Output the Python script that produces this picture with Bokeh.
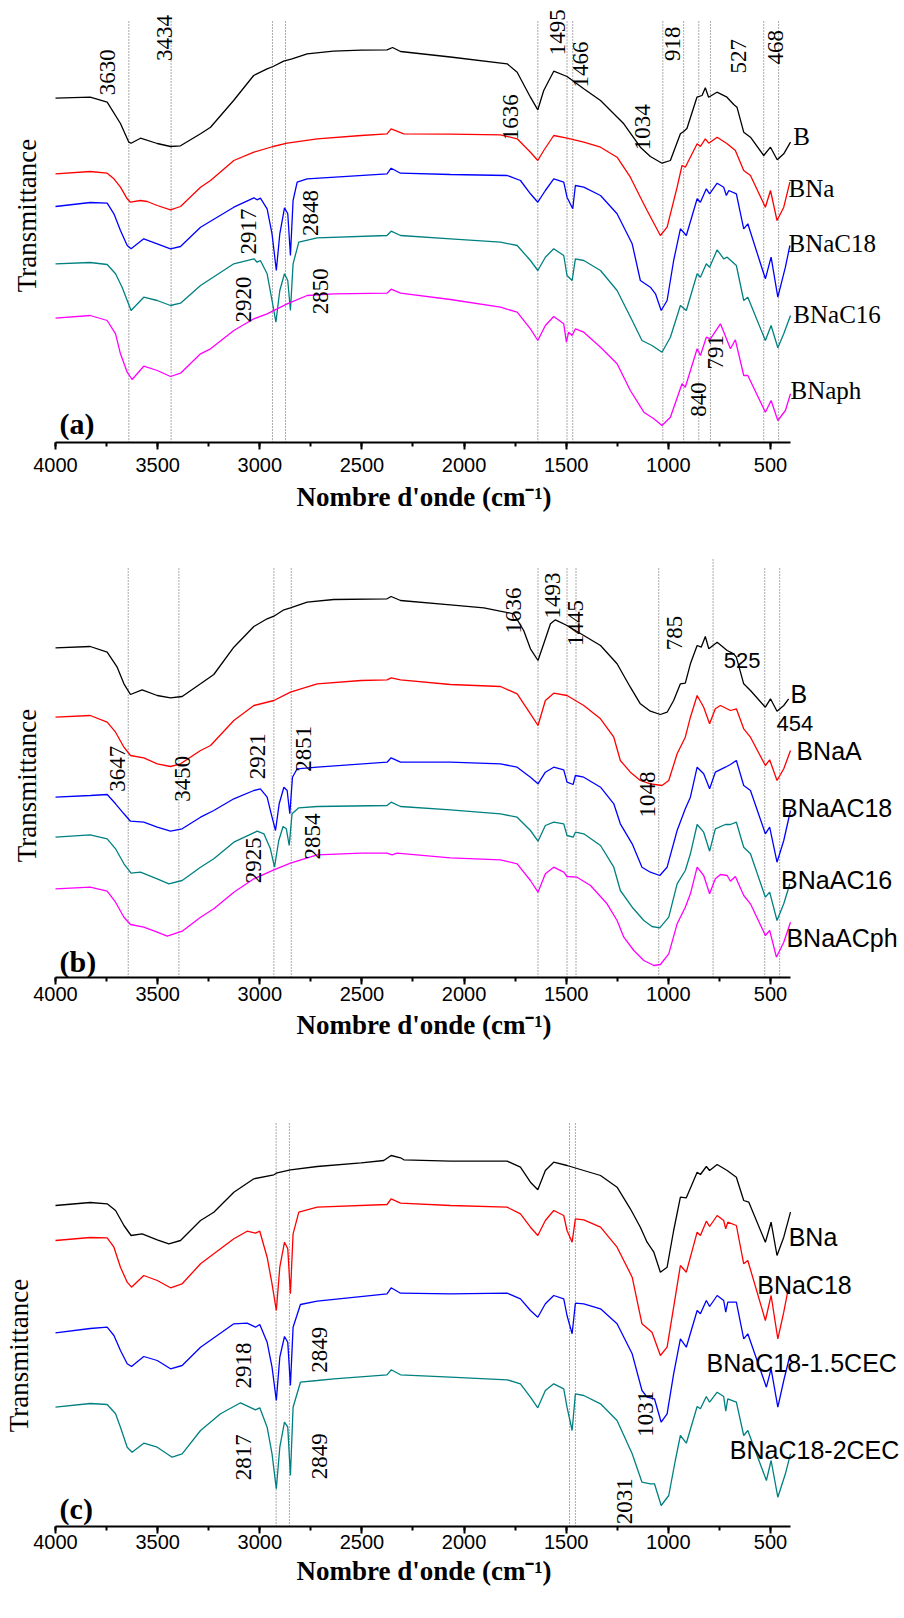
from math import pi
from bokeh.plotting import figure
from bokeh.layouts import column
from bokeh.models import Range1d, Label, SingleIntervalTicker, Title
from bokeh.embed import file_html
from bokeh.resources import INLINE

BLACK, RED, BLUE, TEAL, MAG = "#000000", "#ff0000", "#0000ff", "#008080", "#ff00ff"

# ---------------- Panel (a) data: (wavenumber cm-1, transmittance a.u.) ----------------
a_B = [(4000,344.3),(3830,345.3),(3747,340.3),(3682,319),(3641,300.3),(3630,299.3),(3584,304.3),(3502,299),(3437,296),(3388,296.7),(3290,308.7),(3241,315.3),(3128,342),(3030,367),(2964,373.7),(2935,376),(2883,381.3),(2842,383.7),(2768,388.7),(2640,391.3),(2504,392.3),(2377,392.7),(2350,395),(2311,391),(2067,385.5),(1789,378.7),(1740,370.3),(1675,345.3),(1639,332.7),(1610,352),(1561,371.3),(1496,366),(1414,353.7),(1332,342),(1218,318.7),(1137,295.3),(1088,286),(1031,279.3),(990,282),(941,308.7),(925,311),(909,314),(860,345.3),(835,347),(819,354.7),(803,345.3),(762,350.3),(713,345.3),(680,338),(664,335.3),(631,310.3),(598,305.3),(533,287),(500,295.3),(467,282.7),(435,288.7),(402,300.3)]
a_BNa = [(4000,268.7),(3830,271),(3747,269.3),(3714,263.7),(3682,255.3),(3649,243.7),(3633,240.3),(3584,242),(3551,241),(3502,237),(3437,232.7),(3388,236),(3290,255.3),(3241,262),(3127,282),(3029,290.3),(2935,296),(2866,299.3),(2719,303.7),(2504,307),(2377,308.7),(2357,313.7),(2295,308.7),(2067,308.3),(1822,307.7),(1740,303.7),(1675,290.3),(1639,282),(1610,292),(1561,307),(1496,304.3),(1414,300.3),(1332,295.3),(1251,285.3),(1186,265.3),(1137,245.3),(1104,232),(1039,207),(1006,215.3),(957,255.3),(933,277),(917,275.3),(859,298.7),(843,296),(819,303.7),(802,299.3),(761,305.3),(712,298.7),(672,292),(631,272),(598,267),(525,235.3),(500,252),(468,222),(435,235.3),(405,260.3)]
a_BNaC18 = [(4000,236),(3830,240),(3747,239.3),(3714,228.7),(3682,212),(3649,197),(3630,193.7),(3568,203.7),(3502,198.7),(3437,193.7),(3388,196),(3290,215.3),(3127,235.3),(3029,244.7),(3013,242.7),(2997,244.3),(2964,233.7),(2940,208.7),(2919,172),(2902,208.7),(2879,234.7),(2863,228.7),(2850,187),(2837,242),(2817,260.3),(2768,263.7),(2377,268.7),(2357,274.3),(2311,269.3),(2067,268),(1789,267),(1724,262),(1675,248.7),(1639,240.3),(1602,252),(1561,263.7),(1512,260.3),(1496,245.3),(1468,233.7),(1455,257),(1414,255.3),(1332,247),(1251,228.7),(1177,198.7),(1137,162),(1088,155.3),(1063,148.7),(1035,132),(1006,142),(974,182),(941,213.7),(912,207),(859,243.7),(843,240.3),(814,253.7),(798,248.7),(761,259.3),(729,255.3),(716,247),(704,252),(667,248.7),(631,213.7),(611,218.7),(525,163.7),(497,185.3),(464,145.3),(427,175.3),(405,197)]
a_BNaC16 = [(4000,178.7),(3830,180),(3747,178),(3706,168.7),(3674,155.3),(3630,132),(3568,145.3),(3502,142),(3437,137),(3388,139.3),(3290,157),(3127,178.7),(3029,183.7),(3013,180.3),(2997,182),(2964,168.7),(2940,142),(2921,120.3),(2902,152),(2879,168.7),(2863,162),(2850,132),(2837,178.7),(2809,200.3),(2719,204.7),(2377,207),(2357,211.3),(2311,207),(2067,203.7),(1822,200.3),(1740,197),(1675,182),(1639,172),(1602,185.3),(1561,193.7),(1512,187),(1496,167),(1471,162),(1455,183.7),(1414,182),(1332,172),(1251,152),(1177,122),(1129,102),(1080,97),(1031,90.3),(990,105.3),(941,137),(912,132),(859,168.7),(843,165.3),(814,178.7),(798,175.3),(761,192.7),(729,183.7),(712,185.3),(667,177),(631,142),(611,145.3),(525,102),(497,117),(464,94.7),(435,108.7),(402,127)]
a_BNaph = [(4000,124.3),(3830,127),(3747,122),(3706,108.7),(3682,88.7),(3649,70.3),(3625,63),(3568,76.3),(3502,72),(3437,66),(3388,69.3),(3290,88.7),(3241,93.7),(3127,112),(3029,123.7),(2964,128.7),(2866,138.7),(2768,147),(2638,148.7),(2377,149.3),(2357,153.3),(2311,149.3),(2067,143),(1822,135.3),(1740,130.3),(1675,113.7),(1639,102),(1602,117),(1561,126),(1512,118.7),(1499,100.3),(1488,110.3),(1471,107),(1455,113.7),(1414,110.3),(1332,95.3),(1251,78.7),(1186,52),(1120,30.3),(1071,23.7),(1031,17),(990,25.3),(933,58.7),(917,55.3),(859,93.7),(843,87),(814,105.3),(794,103.7),(745,118.7),(696,93.7),(672,102.7),(631,67),(611,67),(525,30.3),(497,42),(464,22),(427,32),(402,48.7)]
a_lines = [3641, 3434, 2938, 2874, 1639, 1496, 1468, 1027, 925, 851, 794, 533, 460]
a_peaks = [("3630",3747,370.3),("3434",3468,404.5),("2917",3054,211),("2920",3078,143),("2848",2752,229.5),("2850",2703,151.2),
           ("1636",1773,325.3),("1495",1544,410.3),("1466",1430,378),("1034",1128,315.3),("918",981,398.7),("527",655,386.2),
           ("468",476,395.3),("840",851,43),("791",770,90.3)]
a_names = [("B",388,306),("BNa",412,254.5),("BNaC18",412,199.5),("BNaC16",388,128),("BNaph",402,52)]

# ---------------- Panel (b) data ----------------
b_B = [(4000,329.7),(3830,331),(3747,325.3),(3698,310.3),(3665,293.7),(3633,283),(3576,287.7),(3502,282),(3437,279.7),(3380,281),(3290,293.7),(3225,303),(3127,330.3),(3029,351),(2964,358.7),(2931,361.3),(2882,367.7),(2850,369.7),(2768,375.3),(2638,378),(2377,378.7),(2357,381),(2311,377),(2067,372.7),(1903,369.7),(1757,363.7),(1708,347),(1675,328.7),(1638,317),(1610,333.7),(1577,353.7),(1553,357.7),(1496,352),(1414,342),(1332,332),(1251,313.7),(1186,290.3),(1137,273.7),(1088,266.3),(1039,263),(1006,265.3),(974,277),(941,293.7),(917,294.3),(892,313.7),(859,332),(839,330.3),(819,341),(802,328.7),(761,335.3),(712,327),(680,323.7),(667,320.3),(631,293.7),(598,287),(525,270.3),(500,278.7),(468,266.3),(435,272),(411,278.7)]
b_BNaA = [(4000,260.3),(3830,262),(3747,255.3),(3706,245.3),(3665,230.3),(3633,222),(3568,219.7),(3502,213.7),(3437,211),(3388,213.7),(3290,227),(3241,232),(3127,257),(3029,272),(2931,277),(2850,285.3),(2719,293.7),(2504,297),(2377,297.7),(2357,299.7),(2311,297.7),(2067,293),(1822,291),(1740,283.7),(1675,263.7),(1638,252),(1602,277),(1561,284.3),(1496,282),(1414,272),(1332,258.7),(1267,240.3),(1235,217),(1186,205.3),(1137,197),(1088,193.7),(1031,192),(998,197),(957,223.7),(917,240.3),(892,260.3),(859,282),(827,270.3),(798,253.7),(770,268.7),(745,272),(696,267),(667,268.7),(631,248.7),(598,240.3),(525,212),(504,217.7),(468,197),(435,208.7),(402,227)]
b_BNaAC18 = [(4000,180.3),(3830,182),(3747,183),(3706,173.7),(3665,163.7),(3633,156.3),(3568,155.3),(3502,150.3),(3437,146.3),(3380,148.7),(3290,160.3),(3225,167),(3127,178.7),(3029,187),(2997,188.7),(2964,180.3),(2944,163.7),(2923,147),(2905,173.7),(2882,190.3),(2866,187),(2853,163.7),(2840,200.3),(2817,208.7),(2719,210.3),(2377,215.3),(2357,219.7),(2311,215.3),(2067,215.3),(1822,213.7),(1740,210.3),(1675,200.3),(1638,193.7),(1602,205.3),(1561,210.3),(1512,207.7),(1496,195.3),(1466,193),(1455,202),(1414,200.3),(1332,190.3),(1267,173.7),(1235,153.7),(1177,133.7),(1129,110.3),(1088,105.3),(1042,102),(1006,110.3),(957,147),(917,168.7),(892,180.3),(859,210.3),(827,203.7),(798,188.7),(770,205.3),(721,210.3),(696,213),(667,217),(631,192),(598,187),(525,143.7),(504,150.3),(468,115.3),(435,137),(402,167)]
b_BNaAC16 = [(4000,140.3),(3830,142.7),(3747,138.7),(3706,128.7),(3665,113.7),(3630,104.3),(3584,105.3),(3502,98.7),(3445,93.7),(3380,97),(3290,110.3),(3225,118.7),(3127,135.3),(3013,146.3),(2980,143.7),(2948,128.7),(2928,110.3),(2907,137),(2886,151),(2870,148.7),(2856,132),(2842,163.7),(2809,169.7),(2719,171),(2377,172),(2357,175.3),(2311,171),(2067,167.7),(1822,163.7),(1740,160.3),(1675,147),(1638,136.3),(1602,152),(1561,155.3),(1512,153.7),(1496,142),(1466,140.3),(1455,145.3),(1414,143.7),(1332,132),(1267,110.3),(1235,87),(1177,70.3),(1120,57),(1080,51),(1042,49.7),(998,60.3),(957,93.7),(917,107),(892,123.7),(859,153),(827,145.3),(798,126.3),(770,148.7),(721,153),(696,153),(667,155.3),(631,130.3),(598,123.7),(525,80.3),(504,85.3),(468,57),(435,73.7),(405,93.7)]
b_BNaACph = [(4000,88.7),(3830,90.3),(3747,86.3),(3706,75.3),(3665,60.3),(3633,53),(3568,50.3),(3502,45.3),(3453,41.3),(3380,46.3),(3290,60.3),(3225,68.7),(3127,85.3),(3029,98.7),(2931,107.7),(2850,114.3),(2719,122.7),(2504,124.3),(2377,124.3),(2352,122.7),(2328,124.3),(2067,119.7),(1822,117.7),(1740,113.7),(1675,97),(1638,85.3),(1602,103.7),(1561,110.3),(1512,105.3),(1496,101),(1447,100.3),(1381,92),(1300,73.7),(1251,57),(1218,40.3),(1169,27),(1120,17),(1071,12),(1039,13),(998,23.7),(957,53.7),(917,70.3),(892,83.7),(859,110.3),(827,102),(798,83.7),(770,98.7),(745,103),(712,102),(696,96.3),(672,101),(631,82),(598,73.7),(525,42),(504,47),(471,20.3),(435,35.3),(402,55.3)]
b_lines = [3644, 3396, 2931, 2846, 1638, 1496, 1452, 1047, 781, 528, 455]
b_peaks = [("3647",3698,208.7),("3450",3380,198.7),("2921",3013,221.2),("2851",2785,228.7),("2925",3032,117.3),("2854",2744,141),
           ("1636",1760,367),("1493",1569,382),("1445",1455,354.5),("785",969,344.5),("1048",1104,183)]
b_hpeaks = [("525",639,317),("454",381,254)]
b_names = [("B",402,284),("BNaA",373,227),("BNaAC18",448,169.5),("BNaAC16",448,97.3),("BNaACph",422,39.5)]

# ---------------- Panel (c) data ----------------
c_BNa = [(4000,321),(3830,324),(3747,322.7),(3706,316),(3665,301),(3630,291),(3576,292.7),(3502,286.7),(3445,282.7),(3388,286),(3290,306),(3225,314.3),(3127,334.3),(3029,347.7),(2931,351.7),(2915,353.7),(2850,356.7),(2719,360),(2504,363.7),(2393,366),(2357,371),(2311,368.7),(2295,366.7),(2067,365.3),(1789,365.3),(1724,359.3),(1675,344.3),(1639,336.7),(1602,356),(1561,364.3),(1496,361),(1414,356),(1332,351),(1251,339.3),(1186,317.7),(1137,299.3),(1104,284.3),(1071,274.3),(1039,254.3),(1006,259.3),(974,296),(941,329.3),(912,328.7),(859,354.3),(843,352),(814,360),(798,356),(761,362),(712,356),(667,349.3),(631,326),(606,324.3),(525,284.3),(497,304.3),(468,271),(435,289.3),(402,314.3)]
c_BNaC18 = [(4000,286),(3830,289),(3747,288.7),(3714,279.3),(3682,259.3),(3649,244.3),(3628,239.3),(3568,251),(3502,246),(3437,238.7),(3380,242.7),(3290,262.7),(3127,287.7),(3062,295.3),(3021,293.3),(3000,295.3),(2964,269.3),(2940,242.7),(2919,216),(2902,259.3),(2879,284.3),(2863,277.7),(2850,232.7),(2837,292.7),(2809,314.3),(2719,319.3),(2377,322),(2357,327.7),(2311,323.3),(2067,321),(1789,319.3),(1724,312.7),(1675,299.3),(1639,291),(1602,306),(1561,316),(1512,311),(1496,296),(1471,284.3),(1455,307.7),(1414,306.7),(1332,299.3),(1251,279.3),(1177,249.3),(1129,202.7),(1080,194.3),(1039,171),(1006,179.3),(974,219.3),(941,261),(912,254.3),(859,294.3),(843,291),(814,305.3),(798,300),(761,311),(729,306),(719,297.7),(709,304.3),(667,301),(631,262.7),(611,266),(525,206),(497,231),(464,187.7),(435,214.3),(405,246)]
c_BNaC18_15 = [(4000,193.7),(3830,198),(3747,199.3),(3714,191),(3682,176),(3649,162.7),(3628,160),(3568,170),(3502,166),(3437,157.7),(3380,161),(3290,179.3),(3127,202.7),(3062,203.3),(3021,199.3),(3000,202),(2964,184.3),(2940,159.3),(2919,126),(2902,169.3),(2879,190),(2863,184.3),(2850,141),(2837,199.3),(2801,222),(2719,225.3),(2377,232.7),(2357,238.7),(2311,233.3),(2067,232.7),(1789,233.3),(1724,227.7),(1675,216),(1639,209.3),(1602,222.7),(1561,231),(1512,227.7),(1496,211),(1471,192.7),(1455,223.3),(1414,222.7),(1332,217.7),(1251,202.7),(1177,172.7),(1129,136),(1104,129.3),(1068,127.7),(1035,104.3),(1006,112.7),(974,152.7),(941,187.7),(912,179.3),(859,216),(843,212.7),(814,226),(798,220),(761,231),(729,226),(719,214.3),(709,224.3),(667,224.3),(631,187.7),(611,192.7),(520,139.3),(497,157.7),(464,119.3),(435,146),(405,171)]
c_BNaC18_2 = [(4000,119.3),(3830,123),(3747,122),(3706,112.7),(3682,99.3),(3649,79.3),(3625,74.3),(3568,83.3),(3502,79.3),(3429,69.3),(3380,72.7),(3290,96),(3192,112.7),(3094,123.7),(3021,116.7),(3000,118.7),(2964,99.3),(2940,72.7),(2919,37.7),(2902,79.3),(2879,104.3),(2863,99.3),(2850,51),(2837,119.3),(2801,144.3),(2719,146),(2638,147.7),(2377,151.7),(2357,156.7),(2311,151.7),(2067,149.3),(1789,146.7),(1724,142.7),(1675,129.3),(1639,118.7),(1602,136),(1561,142.7),(1512,137.7),(1496,119.3),(1471,96),(1455,132.7),(1414,131),(1332,122.7),(1251,106),(1177,72.7),(1129,44.3),(1088,42.7),(1068,42.7),(1035,21),(998,31),(966,66),(941,91),(912,83.3),(859,120),(843,117.7),(814,130),(798,124.3),(761,134.3),(729,130),(719,115.3),(709,127.7),(667,124.3),(631,91),(611,96),(520,46),(497,66),(464,29.3),(427,52.7),(402,72.7)]
c_lines = [2920, 2855, 1484, 1455]
c_peaks = [("2918",3078,161),("2849",2706,176.7),("2817",3078,69.3),("2849",2706,70.2),("1031",1112,112.7),("2031",1215,25.2)]
c_names = [("BNa",411,289.3),("BNaC18",565,242),("BNaC18-1.5CEC",813,163.5),("BNaC18-2CEC",699,76.3)]

X_TITLE = "Nombre d'onde (cm\u207b\u00b9)"
NARROW = "Liberation Sans Narrow"
WN_MAX, WN_MIN = 4000, 402
PX_LEFT, PX_RIGHT, W = 55, 790, 904


def make_panel(height, axis_top, series, lines, line_top, peaks, hpeaks, names, name_font, name_size,
               letter, letter_y, ylab_x, ylab_y, tick_standoff, title_standoff):
    k = (WN_MAX - WN_MIN) / (PX_RIGHT - PX_LEFT)
    xr = Range1d(WN_MAX + PX_LEFT * k, WN_MAX - (W - PX_LEFT) * k)
    p = figure(width=W, height=height, x_range=xr, y_range=Range1d(0, axis_top - 8),
               output_backend="svg", toolbar_location=None,
               min_border_left=0, min_border_right=0, min_border_top=8,
               min_border_bottom=height - axis_top)
    p.grid.visible = False
    p.outline_line_color = None
    p.yaxis.visible = False
    ax = p.xaxis[0]
    ax.bounds = (WN_MIN, WN_MAX)
    ax.ticker = SingleIntervalTicker(interval=500, num_minor_ticks=2)
    ax.axis_line_width = 2
    ax.major_tick_line_width = 2
    ax.minor_tick_line_width = 2
    ax.major_tick_in = 0
    ax.major_tick_out = 7
    ax.minor_tick_in = 0
    ax.minor_tick_out = 4
    ax.major_label_text_font = "Liberation Sans"
    ax.major_label_text_font_size = "20px"
    ax.major_label_text_color = "black"
    ax.major_label_standoff = tick_standoff
    # x-axis title, centred under the drawn axis span (not the full canvas)
    p.add_layout(Title(text=X_TITLE, align="left", offset=296, standoff=title_standoff,
                       text_font="Liberation Serif", text_font_style="bold", text_font_size="27px",
                       text_color="black"), "below")

    p.segment(x0=lines, y0=[0] * len(lines), x1=lines, y1=line_top,
              line_color="#555555", line_dash="1 2", line_width=1)
    for pts, col in series:
        xs = [q[0] for q in pts]
        ys = [q[1] for q in pts]
        p.line(xs, ys, line_color=col, line_width=1.3)

    for txt, x, y in peaks:
        p.add_layout(Label(x=x, y=y, text=txt, angle=pi / 2, text_align="center", text_baseline="middle",
                           text_font=NARROW, text_font_size="23px", text_color="black"))
    for txt, x, y in hpeaks:
        p.add_layout(Label(x=x, y=y, text=txt, text_align="center", text_baseline="middle",
                           text_font="Liberation Sans", text_font_size="22px", text_color="black"))
    for txt, x, y in names:
        p.add_layout(Label(x=x, y=y, text=txt, text_align="left", text_baseline="middle",
                           text_font=name_font, text_font_size=name_size, text_color="black"))
    p.add_layout(Label(x=3980, y=letter_y, text=letter, text_align="left", text_baseline="middle",
                       text_font="Liberation Serif", text_font_style="bold", text_font_size="30px",
                       text_color="black"))
    p.add_layout(Label(x=ylab_x, y=ylab_y, text="Transmittance", angle=pi / 2, text_align="center",
                       text_baseline="middle", text_font="Liberation Serif", text_font_size="27px",
                       text_color="black"))
    return p


pa = make_panel(520, 442,
                [(a_B, BLACK), (a_BNa, RED), (a_BNaC18, BLUE), (a_BNaC16, TEAL), (a_BNaph, MAG)],
                a_lines, [422] * len(a_lines), a_peaks, [], a_names, "Liberation Serif", "25px",
                "(a)", 19, 4140, 227, 8, 10)
pb = make_panel(530, 457,
                [(b_B, BLACK), (b_BNaA, RED), (b_BNaAC18, BLUE), (b_BNaAC16, TEAL), (b_BNaACph, MAG)],
                b_lines, [409] * 8 + [418, 409, 409], b_peaks, b_hpeaks, b_names, "Liberation Sans", "25px",
                "(b)", 16, 4139, 192, 2, 8)
pc = make_panel(550, 476,
                [(c_BNa, BLACK), (c_BNaC18, RED), (c_BNaC18_15, BLUE), (c_BNaC18_2, TEAL)],
                c_lines, [403] * len(c_lines), c_peaks, [], c_names, "Liberation Sans", "25px",
                "(c)", 18, 4180, 171, 1, 5)

layout = column(pa, pb, pc, spacing=0)
open("out.html", "w").write(file_html(layout, INLINE))
